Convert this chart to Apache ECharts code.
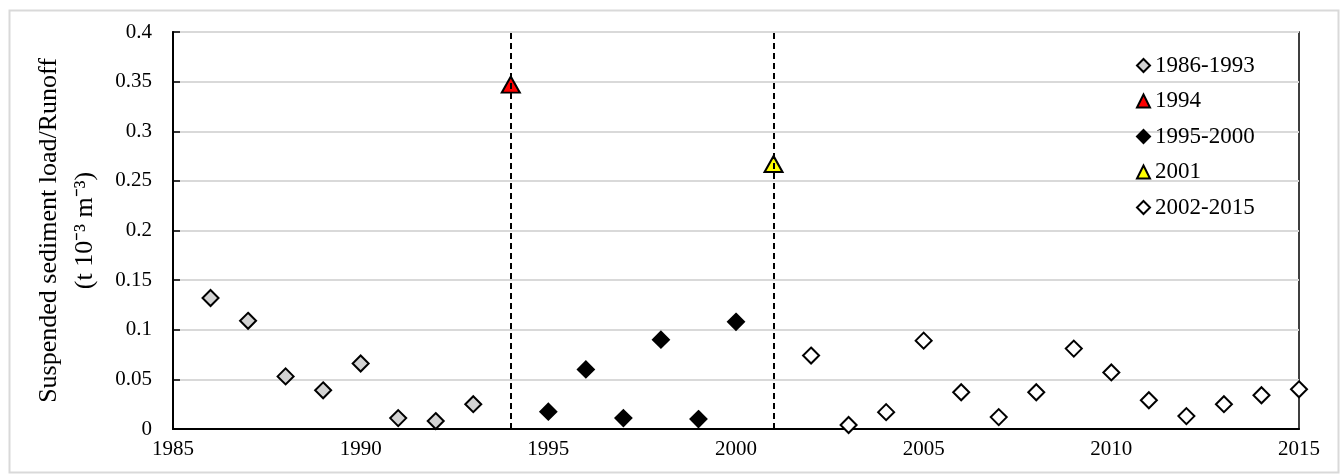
<!DOCTYPE html>
<html>
<head>
<meta charset="utf-8">
<script src="https://cdn.jsdelivr.net/npm/echarts@6/dist/echarts.min.js"></script>
<style>
html,body{margin:0;padding:0;background:#fff;}
#chart{width:1341px;height:474px;}
</style>
</head>
<body>
<div id="chart"></div>
<script>
// ---- Data ----
const years_1986_1993 = [1986, 1987, 1988, 1989, 1990, 1991, 1992, 1993];
const values_1986_1993 = [0.132, 0.109, 0.053, 0.039, 0.066, 0.011, 0.008, 0.025];
const years_1994 = [1994];
const values_1994 = [0.347];
const years_1995_2000 = [1995, 1996, 1997, 1998, 1999, 2000];
const values_1995_2000 = [0.0175, 0.060, 0.011, 0.090, 0.010, 0.108];
const years_2001 = [2001];
const values_2001 = [0.267];
const years_2002_2015 = [2002, 2003, 2004, 2005, 2006, 2007, 2008, 2009, 2010, 2011, 2012, 2013, 2014, 2015];
const values_2002_2015 = [0.074, 0.004, 0.017, 0.089, 0.037, 0.012, 0.037, 0.081, 0.057, 0.029, 0.013, 0.025, 0.034, 0.040];
const seriesNames = ['1986-1993', '1994', '1995-2000', '2001', '2002-2015'];
const dividerYears = [1994, 2001];
const yTitleLine1 = 'Suspended sediment load/Runoff';
const yTitleLine2 = '(t 10⁻³ m⁻³)';

const FONT = '"Liberation Serif", "Times New Roman", serif';
const pairs = (xs, ys) => xs.map((x, i) => [x, ys[i]]);

const chart = echarts.init(document.getElementById('chart'), null, {renderer: 'canvas'});

const dash = (yr) => ({
  silent: true,
  symbol: ['none', 'none'],
  label: {show: false},
  lineStyle: {color: '#000', width: 2, type: [6, 4], opacity: 1},
  emphasis: {disabled: true},
  data: [{xAxis: yr}]
});

const diamondStyle = (fill) => ({color: fill, borderColor: '#000', borderWidth: 2, opacity: 1});

const option = {
  animation: false,
  backgroundColor: '#fff',
  graphic: [
    {type: 'rect', left: 7, top: 8, shape: {width: 1329, height: 462},
     style: {fill: 'none', stroke: '#d9d9d9', lineWidth: 2}, silent: true, z: -1}
  ],
  grid: {left: 173, right: 42, top: 32, bottom: 45, show: true,
         borderColor: '#000', borderWidth: 1.5, backgroundColor: 'transparent'},
  legend: {
    orient: 'vertical', left: 1131, top: 49,
    itemWidth: 13, itemHeight: 13, itemGap: 12.5,
    textStyle: {fontFamily: FONT, fontSize: 23, color: '#000'},
    data: seriesNames
  },
  xAxis: {
    type: 'value', min: 1985, max: 2015, interval: 5,
    axisLine: {show: true, onZero: false, lineStyle: {color: '#000', width: 2}},
    axisTick: {show: false},
    splitLine: {show: false},
    axisLabel: {fontFamily: FONT, fontSize: 21, color: '#000', margin: 10,
                formatter: (v) => String(v)}
  },
  yAxis: {
    type: 'value', min: 0, max: 0.4, interval: 0.05,
    axisLine: {show: true, lineStyle: {color: '#000', width: 2}},
    axisTick: {show: true, inside: true, length: 7, lineStyle: {color: '#000', width: 1.5}},
    splitLine: {show: true, lineStyle: {color: '#d9d9d9', width: 2}},
    axisLabel: {fontFamily: FONT, fontSize: 21, color: '#000', margin: 21,
                formatter: (v) => String(Math.round(v * 1000) / 1000)},
    name: yTitleLine1 + '\n' + yTitleLine2,
    nameLocation: 'middle', nameRotate: 90, nameGap: 70,
    nameTextStyle: {fontFamily: FONT, fontSize: 26, color: '#000', lineHeight: 36, align: 'center'}
  },
  series: [
    {name: seriesNames[0], type: 'scatter', symbol: 'diamond', symbolSize: 16,
     itemStyle: diamondStyle('#d3d3d3'),
     data: pairs(years_1986_1993, values_1986_1993)},
    {name: seriesNames[1], type: 'scatter', symbol: 'triangle', symbolSize: [18, 16],
     itemStyle: diamondStyle('#ff0000'),
     data: pairs(years_1994, values_1994), markLine: dash(dividerYears[0]), z: 3},
    {name: seriesNames[2], type: 'scatter', symbol: 'diamond', symbolSize: 16,
     itemStyle: diamondStyle('#000000'),
     data: pairs(years_1995_2000, values_1995_2000)},
    {name: seriesNames[3], type: 'scatter', symbol: 'triangle', symbolSize: [18, 16],
     itemStyle: diamondStyle('#ffff00'),
     data: pairs(years_2001, values_2001), markLine: dash(dividerYears[1]), z: 3},
    {name: seriesNames[4], type: 'scatter', symbol: 'diamond', symbolSize: 16,
     itemStyle: diamondStyle('#ffffff'),
     data: pairs(years_2002_2015, values_2002_2015)}
  ]
};
chart.setOption(option);
</script>
</body>
</html>
